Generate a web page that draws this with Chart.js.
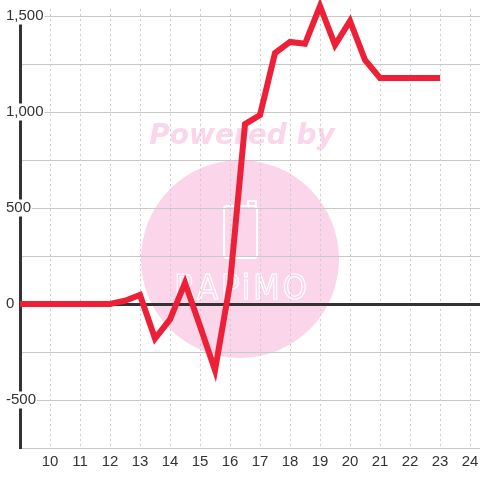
<!DOCTYPE html>
<html>
<head>
<meta charset="utf-8">
<script src="https://cdn.jsdelivr.net/npm/chart.js@4/dist/chart.umd.min.js"></script>
<style>
  html, body { margin: 0; padding: 0; background: #fff; }
  #wrap { width: 480px; height: 480px; }
</style>
</head>
<body>
<div id="wrap"><canvas id="chart" width="480" height="480"></canvas></div>
<script>
// x positions (hour) and values
const hours = [9, 9.5, 10, 10.5, 11, 11.5, 12, 12.5, 13, 13.5, 14, 14.5, 15, 15.5,
  16, 16.5, 17, 17.5, 18, 18.5, 19, 19.5, 20, 20.5, 21, 21.5, 22, 22.5, 23];
const values = [0, 0, 0, 0, 0, 0, 0, 17, 47, -180, -80, 110, -115, -345,
  105, 937, 984, 1307, 1365, 1355, 1552, 1349, 1474, 1271, 1177, 1177, 1177, 1177, 1177];
const xTickLabels = [10, 11, 12, 13, 14, 15, 16, 17, 18, 19, 20, 21, 22, 23, 24];
const yGridValues = [-750, -500, -250, 0, 250, 500, 750, 1000, 1250, 1500];
const yTickLabels = [-500, 0, 500, 1000, 1500];

const points = hours.map((h, i) => ({ x: h, y: values[i] }));

// white background + faint "Powered by" watermark under the grid
const watermark = {
  id: "watermark",
  beforeDraw(chart) {
    const ctx = chart.ctx;
    ctx.save();
    ctx.fillStyle = "#ffffff";
    ctx.fillRect(0, 0, chart.width, chart.height);

    ctx.fillStyle = "#fbd5ea";
    ctx.beginPath();
    ctx.arc(240, 259, 99, 0, Math.PI * 2);
    ctx.fill();

    ctx.font = 'bold italic 28px "DejaVu Sans"';
    ctx.textAlign = "center";
    ctx.textBaseline = "alphabetic";
    ctx.fillText("Powered by", 242, 144);

    // little phone icon
    ctx.strokeStyle = "#ffffff";
    ctx.lineWidth = 2;
    ctx.beginPath();
    ctx.roundRect(224, 206, 33, 52, 3);
    ctx.stroke();
    ctx.beginPath();
    ctx.moveTo(248, 206);
    ctx.lineTo(248, 201);
    ctx.lineTo(256, 201);
    ctx.lineTo(256, 206);
    ctx.stroke();

    ctx.lineWidth = 1.2;
    ctx.font = '34px "DejaVu Sans Condensed"';
    ctx.textBaseline = "middle";
    ctx.letterSpacing = "3px";
    ctx.strokeText("RAPiMO", 242, 290);
    ctx.restore();
  }
};

const tickFont = { family: '"Liberation Sans", Arial, sans-serif', size: 15 };

new Chart(document.getElementById("chart"), {
  type: "line",
  data: {
    datasets: [{
      data: points,
      borderColor: "#ee2037",
      borderWidth: 6,
      pointRadius: 0,
      tension: 0,
      fill: false,
      clip: false
    }]
  },
  options: {
    responsive: false,
    animation: false,
    layout: { padding: { left: 6, top: 9, right: 0, bottom: 4 } },
    plugins: { legend: { display: false }, tooltip: { enabled: false } },
    scales: {
      x: {
        type: "linear",
        min: 9,
        max: 24.333,
        afterFit: (s) => { s.paddingLeft = 0; s.paddingRight = 0; },
        grid: {
          drawTicks: false,
          color: (c) => (c.tick && c.tick.value === 9 ? "transparent" : "#cccccc"),
          lineWidth: 1
        },
        border: { display: false, dash: [2, 3] },
        ticks: {
          stepSize: 1,
          includeBounds: false,
          padding: 5,
          color: "#333",
          font: tickFont,
          maxRotation: 0,
          autoSkip: false,
          callback: (v) => (xTickLabels.includes(v) ? String(v) : "")
        }
      },
      y: {
        min: -750,
        max: 1536.5,
        afterBuildTicks: (s) => { s.ticks = yGridValues.map((v) => ({ value: v })); },
        // labels sit over the plot, left-aligned at x=6; the axis box is 14px wide
        afterFit: (s) => { s.width = 14; },
        grid: {
          drawTicks: false,
          color: (c) => (c.tick && c.tick.value === 0 ? "#333333" : "#c8c8c8"),
          lineWidth: (c) => (c.tick && c.tick.value === 0 ? 3 : 1)
        },
        border: { display: true, color: "#333333", width: 3 },
        ticks: {
          mirror: true,
          padding: -14,
          color: "#333",
          showLabelBackdrop: true,
          backdropColor: "#ffffff",
          backdropPadding: 1,
          font: { ...tickFont, lineHeight: 1 },
          callback: (v) => (yTickLabels.includes(v) ? v.toLocaleString("en-US") : "")
        }
      }
    }
  },
  plugins: [watermark]
});
</script>
</body>
</html>
